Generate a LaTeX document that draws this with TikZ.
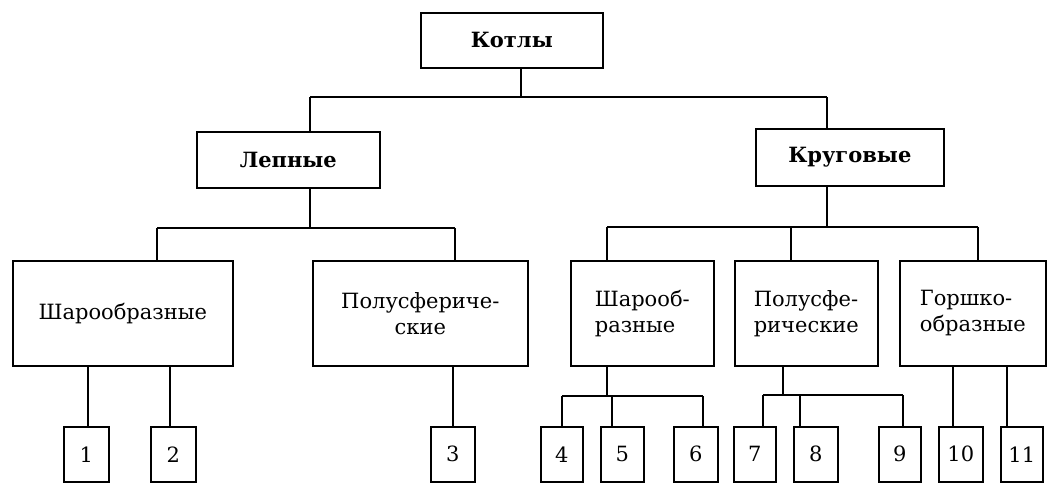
\documentclass[tikz,border=0pt]{standalone}
\usepackage{fontspec}
\setmainfont{DejaVu Serif}
\begin{document}
\begin{tikzpicture}[x=1pt,y=-1pt,line width=1.6pt,
  box/.style={draw,line width=1.6pt,inner sep=0pt,anchor=north west,font=\fontsize{21}{26}\selectfont},
  title/.style={box,font=\fontsize{21}{26}\selectfont\bfseries},
  big/.style={minimum height=105pt},
  num/.style={box,minimum height=55pt,font=\fontsize{21}{26}\selectfont}]
\useasboundingbox (0,0) rectangle (1057,483);
% top levels
\node[title,minimum width=182pt,minimum height=55pt] (kotly) at (420,12) {Котлы};
\node[title,minimum width=183pt,minimum height=56pt] (lep) at (196,131) {Лепные};
\node[title,minimum width=188pt,minimum height=57pt] (krug) at (755,128) {Круговые};
% middle level
\node[box,big,minimum width=220pt] (shar1) at (12,260) {Шарообразные};
\node[box,big,minimum width=215pt,align=center] (polu1) at (312,260) {Полусфериче-\\ские};
\node[box,big,minimum width=143pt,align=left] (shar2) at (570,260) {Шарооб-\\разные};
\node[box,big,minimum width=143pt,align=left] (polu2) at (734,260) {Полусфе-\\рические};
\node[box,big,minimum width=146pt,align=left] (gorsh) at (899,260) {Горшко-\\образные};
% bottom level
\node[num,minimum width=45pt] (n1) at (63,426) {1};
\node[num,minimum width=45pt] (n2) at (150,426) {2};
\node[num,minimum width=44pt] (n3) at (430,426) {3};
\node[num,minimum width=42pt] (n4) at (540,426) {4};
\node[num,minimum width=43pt] (n5) at (600,426) {5};
\node[num,minimum width=44pt] (n6) at (673,426) {6};
\node[num,minimum width=42pt] (n7) at (733,426) {7};
\node[num,minimum width=44pt] (n8) at (793,426) {8};
\node[num,minimum width=42pt] (n9) at (878,426) {9};
\node[num,minimum width=44pt] (n10) at (938,426) {10};
\node[num,minimum width=42pt] (n11) at (1000,426) {11};
% bus coordinates
\coordinate (k1) at (521,97);
\coordinate (b1l) at (310,97);
\coordinate (b1r) at (827,97);
\coordinate (l1) at (310,228);
\coordinate (b2l) at (157,228);
\coordinate (b2r) at (455,228);
\coordinate (r1) at (827,227);
\coordinate (b3l) at (607,227);
\coordinate (b3m) at (791,227);
\coordinate (b3r) at (978,227);
\coordinate (s1) at (607,396);
\coordinate (b4l) at (562,396);
\coordinate (b4m) at (612,396);
\coordinate (b4r) at (703,396);
\coordinate (p1) at (783,395);
\coordinate (b5l) at (763,395);
\coordinate (b5m) at (800,395);
\coordinate (b5r) at (903,395);
\coordinate (d1) at (88,0);
\coordinate (d2) at (170,0);
\coordinate (d3) at (453,0);
\coordinate (d10) at (953,0);
\coordinate (d11) at (1007,0);
% connectors level 1
\draw (kotly.south -| k1) -- (k1);
\draw (b1l) -- (b1r);
\draw (b1l) -- (lep.north -| b1l);
\draw (b1r) -- (krug.north -| b1r);
% Lepnye
\draw (lep.south -| l1) -- (l1);
\draw (b2l) -- (b2r);
\draw (b2l) -- (shar1.north -| b2l);
\draw (b2r) -- (polu1.north -| b2r);
% Krugovye
\draw (krug.south -| r1) -- (r1);
\draw (b3l) -- (b3r);
\draw (b3l) -- (shar2.north -| b3l);
\draw (b3m) -- (polu2.north -| b3m);
\draw (b3r) -- (gorsh.north -| b3r);
% bottom
\draw (shar1.south -| d1) -- (n1.north -| d1);
\draw (shar1.south -| d2) -- (n2.north -| d2);
\draw (polu1.south -| d3) -- (n3.north -| d3);
\draw (shar2.south -| s1) -- (s1);
\draw (b4l) -- (b4r);
\draw (b4l) -- (n4.north -| b4l);
\draw (b4m) -- (n5.north -| b4m);
\draw (b4r) -- (n6.north -| b4r);
\draw (polu2.south -| p1) -- (p1);
\draw (b5l) -- (b5r);
\draw (b5l) -- (n7.north -| b5l);
\draw (b5m) -- (n8.north -| b5m);
\draw (b5r) -- (n9.north -| b5r);
\draw (gorsh.south -| d10) -- (n10.north -| d10);
\draw (gorsh.south -| d11) -- (n11.north -| d11);
\end{tikzpicture}
\end{document}
